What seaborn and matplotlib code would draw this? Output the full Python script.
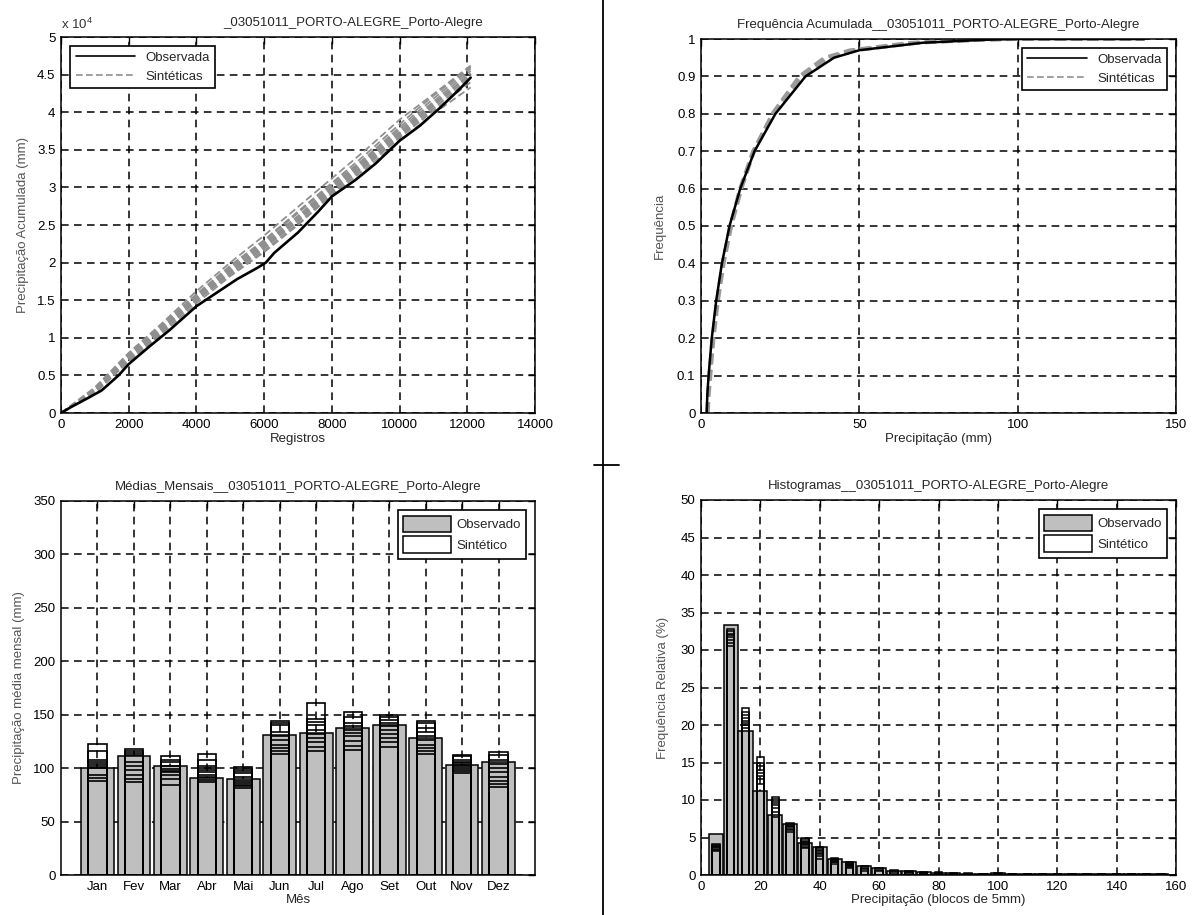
import numpy as np
import pandas as pd
import matplotlib
matplotlib.use('Agg')
import matplotlib.pyplot as plt
from matplotlib.lines import Line2D
from matplotlib.patches import Patch
import seaborn as sns

# ---------------------------------------------------------------- dados
# precipitacao acumulada (mm) x numero do registro
registros_obs = [0, 300, 800, 1200, 1700, 2000, 2600, 3200, 4000, 4600, 5200, 5800,
                 6050, 6300, 7000, 7600, 8000, 8700, 9300, 10000, 10600, 11200, 11800, 12100]
acum_obs = [0, 800, 2000, 3000, 5000, 6500, 8800, 11000, 14200, 16000, 17800, 19300,
            20000, 21300, 24000, 26800, 28800, 31000, 33200, 36200, 38200, 40600, 43200, 44600]

registros_sint = [0, 1000, 2000, 3000, 4000, 5000, 6000, 7000, 8000, 9000, 10000, 11000, 12100]
acum_sint = [
    [0, 3000, 7200, 11200, 15200, 18800, 22200, 25800, 29800, 33400, 37200, 41000, 45200],
    [0, 2600, 7000, 10800, 15000, 18400, 21600, 25200, 29200, 32800, 36600, 40200, 44000],
    [0, 3300, 7800, 11800, 15800, 19600, 23000, 26800, 30600, 34400, 38400, 42200, 46000],
    [0, 2800, 6900, 11000, 14900, 18600, 21900, 25500, 29400, 33000, 36800, 40500, 44500],
    [0, 3100, 7400, 11400, 15500, 19200, 22600, 26200, 30200, 33800, 37700, 41400, 45500],
    [0, 2700, 6800, 10600, 14600, 18200, 21400, 25000, 29000, 32500, 36200, 39800, 43300],
    [0, 3200, 7600, 11600, 15600, 19400, 22800, 26600, 30400, 34000, 38000, 41800, 45800],
    [0, 2900, 7100, 11100, 15100, 18700, 22000, 25700, 29600, 33200, 37000, 40800, 44800],
    [0, 3000, 7300, 11300, 15300, 19000, 22400, 26000, 30000, 33600, 37400, 41200, 45000],
    [0, 3400, 8000, 12000, 16200, 20000, 23600, 27400, 31200, 35000, 39000, 42400, 46200],
]

# frequencia acumulada
freq_niveis = [0, 0.05, 0.1, 0.2, 0.3, 0.4, 0.5, 0.6, 0.7, 0.8, 0.9, 0.95, 0.97, 0.99, 0.998, 1.0, 1.0]
precip_obs = [1.8, 2.0, 2.4, 3.4, 4.8, 6.6, 9.0, 12.4, 16.9, 23.5, 33, 42, 50, 70, 90, 100, 140]
precip_sint = [
    [2.0, 2.3, 2.8, 3.8, 5.2, 7.0, 9.4, 12.6, 16.6, 22.8, 31.5, 40, 48, 68, 88, 100, 140],
    [2.2, 2.5, 3.0, 4.0, 5.4, 7.2, 9.6, 12.8, 16.8, 22.5, 31.0, 39, 47, 66, 85, 98, 140],
    [1.9, 2.2, 2.6, 3.6, 5.0, 6.8, 9.2, 12.3, 16.4, 22.6, 31.8, 41, 49, 69, 90, 102, 140],
]

# medias mensais (mm)
meses = ['Jan', 'Fev', 'Mar', 'Abr', 'Mai', 'Jun', 'Jul', 'Ago', 'Set', 'Out', 'Nov', 'Dez']
media_obs = [100, 111, 102, 91, 90, 131, 133, 138, 140, 128, 103, 106]
media_sint = [
    [88, 91, 94, 100, 102, 104, 106, 108, 116, 123],
    [87, 90, 94, 98, 102, 106, 112, 114, 116, 118],
    [84, 90, 94, 96, 97, 99, 102, 106, 108, 111],
    [87, 89, 92, 94, 96, 98, 100, 102, 108, 113],
    [81, 83, 84, 86, 88, 92, 95, 97, 99, 101],
    [113, 116, 119, 122, 126, 130, 134, 140, 142, 144],
    [116, 120, 124, 128, 132, 136, 140, 143, 146, 161],
    [117, 121, 125, 130, 133, 136, 139, 142, 148, 153],
    [120, 124, 128, 132, 136, 139, 142, 145, 148, 150],
    [113, 116, 119, 122, 126, 130, 134, 138, 142, 144],
    [95, 97, 99, 101, 103, 105, 106, 108, 111, 112],
    [82, 85, 88, 92, 96, 100, 104, 108, 112, 115],
]

# histogramas (blocos de 5mm, %)
blocos = [5, 10, 15, 20, 25, 30, 35, 40, 45, 50, 55, 60, 65, 70, 75, 80, 85, 90, 95,
          100, 105, 110, 115, 120, 125, 130, 135, 140, 145, 150, 155]
hist_obs = [5.5, 33.3, 19.2, 11.2, 8.0, 6.8, 4.3, 3.8, 2.1, 1.7, 1.2, 0.9, 0.6, 0.5, 0.35,
            0.3, 0.25, 0.2, 0.2, 0.25, 0.15, 0.15, 0.12, 0.12, 0.1, 0.1, 0.1, 0.1, 0.1, 0.1, 0.1]
hist_sint = [
    [3.2, 3.4, 3.5, 3.7, 3.8, 3.9, 4.0, 4.2],
    [30.5, 31.0, 31.4, 31.8, 32.0, 32.2, 32.5, 32.8],
    [19.6, 20.0, 20.3, 20.6, 21.0, 21.4, 21.8, 22.3],
    [12.2, 12.8, 13.2, 13.6, 14.0, 14.5, 15.0, 15.7],
    [7.8, 8.4, 9.0, 9.3, 9.6, 9.9, 10.1, 10.4],
    [5.8, 6.0, 6.2, 6.4, 6.5, 6.6, 6.8, 7.0],
    [3.6, 3.8, 4.0, 4.2, 4.4, 4.6, 4.8, 5.0],
    [2.2, 2.5, 2.8, 3.0, 3.2, 3.4, 3.6, 3.8],
    [1.5, 1.7, 1.8, 1.9, 2.0, 2.1, 2.2, 2.3],
    [1.0, 1.1, 1.2, 1.3, 1.4, 1.5, 1.6, 1.7],
    [0.6, 0.8, 1.0, 1.2],
    [0.5, 0.7, 0.9],
    [0.3, 0.5, 0.7],
    [0.3, 0.4, 0.6],
    [0.2, 0.3, 0.4],
    [0.2, 0.3, 0.4],
    [0.15, 0.2, 0.3],
    [0.15, 0.2, 0.3],
    [0.15, 0.2],
    [0.15, 0.2, 0.3],
    [0.1, 0.15],
    [0.1, 0.15],
    [0.1, 0.15],
    [0.1, 0.12],
    [0.08, 0.1],
    [0.08, 0.1],
    [0.08, 0.1],
    [0.08, 0.1],
    [0.08, 0.1],
    [0.08, 0.1],
    [0.08, 0.1],
]

titulo_est = '03051011_PORTO-ALEGRE_Porto-Alegre'

# ---------------------------------------------------------------- estilo
sns.set_theme(style='white')
plt.rcParams['font.family'] = ['Liberation Sans', 'DejaVu Sans']
plt.rcParams['mathtext.fontset'] = 'custom'
plt.rcParams['mathtext.rm'] = 'Liberation Sans'
plt.rcParams['mathtext.default'] = 'regular'
plt.rcParams['font.size'] = 9.5

CINZA = '#bfbfbf'
W, H = 1197, 915


def estilo_matlab(ax):
    ax.set_axisbelow(True)
    ax.grid(True, which='major', linestyle=(0, (5, 3.5)), color='black', linewidth=1.1)
    for s in ax.spines.values():
        s.set_color('black')
        s.set_linewidth(1.1)
        s.set_zorder(10)
    ax.tick_params(direction='in', top=True, right=True, length=5, width=1,
                   labelsize=9.5, colors='black', pad=4)


def legenda(ax, handles, labels, loc, **kw):
    leg = ax.legend(handles, labels, loc=loc, fancybox=False, framealpha=1,
                    edgecolor='black', fontsize=9.5, borderaxespad=0.7, **kw)
    leg.get_frame().set_linewidth(1.2)
    leg.set_zorder(20)
    return leg


fig = plt.figure(figsize=(W / 100, H / 100), dpi=100)
ax1 = fig.add_axes([61 / W, 1 - 413 / H, 474 / W, 376 / H])
ax2 = fig.add_axes([701 / W, 1 - 413 / H, 475 / W, 374 / H])
ax3 = fig.add_axes([61 / W, 1 - 875 / H, 474 / W, 374 / H])
ax4 = fig.add_axes([701 / W, 1 - 875 / H, 475 / W, 375 / H])

# ---------------------------------------------------------------- 1) precipitacao acumulada
for serie in acum_sint:
    sns.lineplot(x=registros_sint, y=serie, color='#8f8f8f', linestyle=(0, (4, 2)),
                 linewidth=1.3, ax=ax1, zorder=3)
sns.lineplot(x=registros_obs, y=acum_obs, color='black', linewidth=1.9, ax=ax1, zorder=4)
ax1.set_xlim(0, 14000)
ax1.set_ylim(0, 50000)
ax1.set_xticks(np.arange(0, 14001, 2000))
ax1.set_yticks(np.arange(0, 50001, 5000))
ax1.set_yticklabels(['0', '0.5', '1', '1.5', '2', '2.5', '3', '3.5', '4', '4.5', '5'])
estilo_matlab(ax1)
ax1.text(0.0, 1.012, r'x 10$^{4}$', transform=ax1.transAxes, ha='left', va='bottom',
         fontsize=9.5, color='#333333')
ax1.set_title('_' + titulo_est, fontsize=9.5, x=0.616, pad=8)
ax1.set_xlabel('Registros', fontsize=9.5, labelpad=2)
ax1.set_ylabel('Precipitação Acumulada (mm)', fontsize=9.5, color='#555555', labelpad=6)
legenda(ax1,
        [Line2D([], [], color='black', lw=1.2),
         Line2D([], [], color='#8f8f8f', lw=1.2, linestyle=(0, (4, 2)))],
        ['Observada', 'Sintéticas'], 'upper left', handlelength=4.5)

# ---------------------------------------------------------------- 2) frequencia acumulada
for serie in precip_sint:
    sns.lineplot(x=serie, y=freq_niveis, sort=False, estimator=None, color='#9a9a9a',
                 linestyle=(0, (3, 1.5)), linewidth=2.6, ax=ax2, zorder=3)
sns.lineplot(x=precip_obs, y=freq_niveis, sort=False, estimator=None, color='black',
             linewidth=1.8, ax=ax2, zorder=4)
ax2.set_xlim(0, 150)
ax2.set_ylim(0, 1)
ax2.set_xticks([0, 50, 100, 150])
ax2.set_yticks(np.round(np.arange(0, 1.01, 0.1), 1))
ax2.set_yticklabels(['0', '0.1', '0.2', '0.3', '0.4', '0.5', '0.6', '0.7', '0.8', '0.9', '1'])
estilo_matlab(ax2)
ax2.set_title('Frequência Acumulada__' + titulo_est, fontsize=9.5, pad=8)
ax2.set_xlabel('Precipitação (mm)', fontsize=9.5, labelpad=2)
ax2.set_ylabel('Frequência', fontsize=9.5, color='#555555', labelpad=8)
legenda(ax2,
        [Line2D([], [], color='black', lw=1.2),
         Line2D([], [], color='#8f8f8f', lw=1.2, linestyle=(0, (4, 2)))],
        ['Observada', 'Sintéticas'], 'upper right', handlelength=4.5)

# ---------------------------------------------------------------- 3) medias mensais
sns.barplot(x=meses, y=media_obs, order=meses, color=CINZA, saturation=1, width=0.9,
            edgecolor='black', linewidth=1.1, errorbar=None, ax=ax3, zorder=2)
n_sint = max(len(v) for v in media_sint)
for k in range(n_sint):
    sns.barplot(x=meses, y=[v[k] for v in media_sint], order=meses, fill=False,
                color='black', width=0.5, linewidth=1.2, errorbar=None, ax=ax3, zorder=3)
ax3.set_xlim(-1, 12)
ax3.set_ylim(0, 350)
ax3.set_xticks(range(12))
ax3.set_xticklabels(meses)
ax3.set_yticks(np.arange(0, 351, 50))
estilo_matlab(ax3)
ax3.xaxis.grid(True, linestyle=(0, (5, 3.5)), color='black', linewidth=1.1)
ax3.set_title('Médias_Mensais__' + titulo_est, fontsize=9.5, pad=8)
ax3.set_xlabel('Mês', fontsize=9.5, labelpad=1)
ax3.set_ylabel('Precipitação média mensal (mm)', fontsize=9.5, color='#555555', labelpad=6)
legenda(ax3,
        [Patch(facecolor=CINZA, edgecolor='black', linewidth=1.1),
         Patch(facecolor='white', edgecolor='black', linewidth=1.1)],
        ['Observado', 'Sintético'], 'upper right', handlelength=3.6, handleheight=1.6,
        labelspacing=0.3, handletextpad=0.4)

# ---------------------------------------------------------------- 4) histogramas
sns.barplot(x=blocos, y=hist_obs, native_scale=True, color=CINZA, saturation=1, width=0.95,
            edgecolor='black', linewidth=1.1, errorbar=None, ax=ax4, zorder=2)
n_hist = max(len(v) for v in hist_sint)
for k in range(n_hist):
    xs = [b for b, v in zip(blocos, hist_sint) if len(v) > k]
    ys = [v[k] for v in hist_sint if len(v) > k]
    sns.barplot(x=xs, y=ys, native_scale=True, fill=False, color='black', width=0.5,
                linewidth=1.1, errorbar=None, ax=ax4, zorder=3)
ax4.set_xlim(0, 160)
ax4.set_ylim(0, 50)
ax4.set_xticks(np.arange(0, 161, 20))
ax4.set_yticks(np.arange(0, 51, 5))
estilo_matlab(ax4)
ax4.set_title('Histogramas__' + titulo_est, fontsize=9.5, pad=8)
ax4.set_xlabel('Precipitação (blocos de 5mm)', fontsize=9.5, labelpad=1)
ax4.set_ylabel('Frequência Relativa (%)', fontsize=9.5, color='#555555', labelpad=8)
legenda(ax4,
        [Patch(facecolor=CINZA, edgecolor='black', linewidth=1.1),
         Patch(facecolor='white', edgecolor='black', linewidth=1.1)],
        ['Observado', 'Sintético'], 'upper right', handlelength=3.6, handleheight=1.6,
        labelspacing=0.3, handletextpad=0.4)

# cruz separando os quadros
fig.add_artist(Line2D([603 / W, 603 / W], [0, 1], color='black', lw=1.3,
                      transform=fig.transFigure))
fig.add_artist(Line2D([594 / W, 619 / W], [1 - 465 / H, 1 - 465 / H], color='black', lw=1.3,
                      transform=fig.transFigure))

fig.savefig('out.png', dpi=100, facecolor='white')
